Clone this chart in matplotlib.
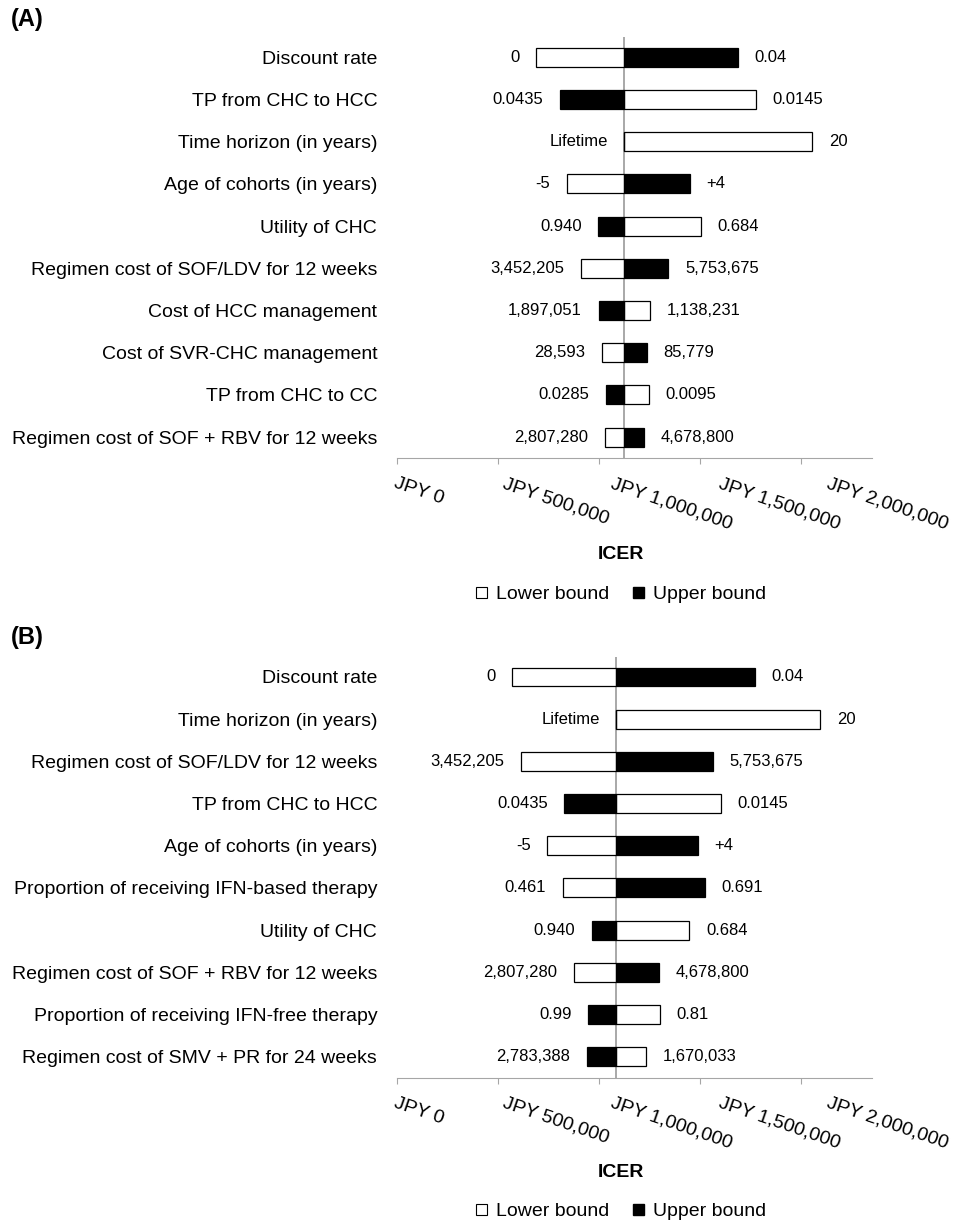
import matplotlib.pyplot as plt
from matplotlib.patches import Patch
from matplotlib.transforms import ScaledTranslation

plt.rcParams['font.family'] = ['Liberation Sans', 'DejaVu Sans']

# panel A data (ICER in JPY)
params_a = ['Discount rate', 'TP from CHC to HCC', 'Time horizon (in years)',
            'Age of cohorts (in years)', 'Utility of CHC',
            'Regimen cost of SOF/LDV for 12 weeks', 'Cost of HCC management',
            'Cost of SVR-CHC management', 'TP from CHC to CC',
            'Regimen cost of SOF + RBV for 12 weeks']
base_a = 1126000
low_icer_a = [690000, 1775000, 2054000, 841000, 1503000, 912000, 1253000, 1014000, 1248000, 1030000]
high_icer_a = [1689000, 806000, 1126000, 1450000, 997000, 1343000, 999000, 1238000, 1034000, 1223000]
low_lbl_a = ['0', '0.0145', '20', '-5', '0.684', '3,452,205', '1,138,231', '28,593', '0.0095', '2,807,280']
high_lbl_a = ['0.04', '0.0435', 'Lifetime', '+4', '0.940', '5,753,675', '1,897,051', '85,779', '0.0285', '4,678,800']

# panel B data
params_b = ['Discount rate', 'Time horizon (in years)',
            'Regimen cost of SOF/LDV for 12 weeks', 'TP from CHC to HCC',
            'Age of cohorts (in years)', 'Proportion of receiving IFN-based therapy',
            'Utility of CHC', 'Regimen cost of SOF + RBV for 12 weeks',
            'Proportion of receiving IFN-free therapy',
            'Regimen cost of SMV + PR for 24 weeks']
base_b = 1086000
low_icer_b = [572000, 2095000, 613000, 1602000, 745000, 821000, 1447000, 878000, 1302000, 1233000]
high_icer_b = [1772000, 1086000, 1563000, 829000, 1489000, 1523000, 964000, 1297000, 948000, 941000]
low_lbl_b = ['0', '20', '3,452,205', '0.0145', '-5', '0.461', '0.684', '2,807,280', '0.81', '1,670,033']
high_lbl_b = ['0.04', 'Lifetime', '5,753,675', '0.0435', '+4', '0.691', '0.940', '4,678,800', '0.99', '2,783,388']

ticks = [0, 500000, 1000000, 1500000, 2000000]
tick_lbls = ['JPY {:,}'.format(t) for t in ticks]

fig = plt.figure(figsize=(9.57, 12.23), dpi=100)


def tornado(ax, params, base, lows, highs, low_lbls, high_lbls):
    ys = range(len(params))
    for y, v in zip(ys, lows):
        ax.barh(y, v - base, left=base, height=0.45, color='white', edgecolor='black', lw=0.9)
    for y, v in zip(ys, highs):
        ax.barh(y, v - base, left=base, height=0.45, color='black', edgecolor='black', lw=0.9)
    for y, lo, hi, llb, hlb in zip(ys, lows, highs, low_lbls, high_lbls):
        for v, t in [(lo, llb), (hi, hlb)]:
            if v <= base:
                ax.annotate(t, (v, y), xytext=(-12, 0), textcoords='offset points',
                            ha='right', va='center', fontsize=12)
            else:
                ax.annotate(t, (v, y), xytext=(12, 0), textcoords='offset points',
                            ha='left', va='center', fontsize=12)
    ax.axvline(base, color='#999999', lw=1.2, zorder=0)
    ax.set_xlim(0, 2349000)
    ax.set_ylim(9.5, -0.48)
    ax.set_yticks(list(ys))
    ax.set_yticklabels(params, fontsize=14)
    ax.tick_params(axis='y', length=0, pad=14)
    ax.set_xticks(ticks)
    ax.set_xticklabels(tick_lbls, rotation=-19, ha='left', rotation_mode='anchor', fontsize=14)
    ax.tick_params(axis='x', length=4, color='#a6a6a6', direction='out', pad=8)
    # the labels in the original drift right a little more at each tick
    for i, lbl in enumerate(ax.get_xticklabels()):
        lbl.set_transform(lbl.get_transform() + ScaledTranslation((1 + 7 * i) / 100, 0, fig.dpi_scale_trans))
    for s in ['top', 'right', 'left']:
        ax.spines[s].set_visible(False)
    ax.spines['bottom'].set_color('#a6a6a6')


ax_a = fig.add_axes([0.4145, 0.6253, 0.4963, 0.3445])
tornado(ax_a, params_a, base_a, low_icer_a, high_icer_a, low_lbl_a, high_lbl_a)
ax_b = fig.add_axes([0.4145, 0.1188, 0.4963, 0.3442])
tornado(ax_b, params_b, base_b, low_icer_b, high_icer_b, low_lbl_b, high_lbl_b)

handles = [Patch(facecolor='white', edgecolor='black', lw=0.8, label='Lower bound'),
           Patch(facecolor='black', edgecolor='black', label='Upper bound')]

fig.text(0.011, 0.984, '(A)', fontsize=17, fontweight='bold', va='center')
fig.text(0.649, 0.5462, 'ICER', fontsize=14, fontweight='bold', ha='center', va='center')
fig.legend(handles=handles, loc='center', bbox_to_anchor=(0.649, 0.5135), ncol=2, frameon=False,
           fontsize=14, handlelength=0.55, handleheight=0.55, handletextpad=0.5, columnspacing=1.2)

fig.text(0.011, 0.479, '(B)', fontsize=17, fontweight='bold', va='center')
fig.text(0.649, 0.0417, 'ICER', fontsize=14, fontweight='bold', ha='center', va='center')
fig.legend(handles=handles, loc='center', bbox_to_anchor=(0.649, 0.009), ncol=2, frameon=False,
           fontsize=14, handlelength=0.55, handleheight=0.55, handletextpad=0.5, columnspacing=1.2)

plt.savefig('out.png', dpi=100)
